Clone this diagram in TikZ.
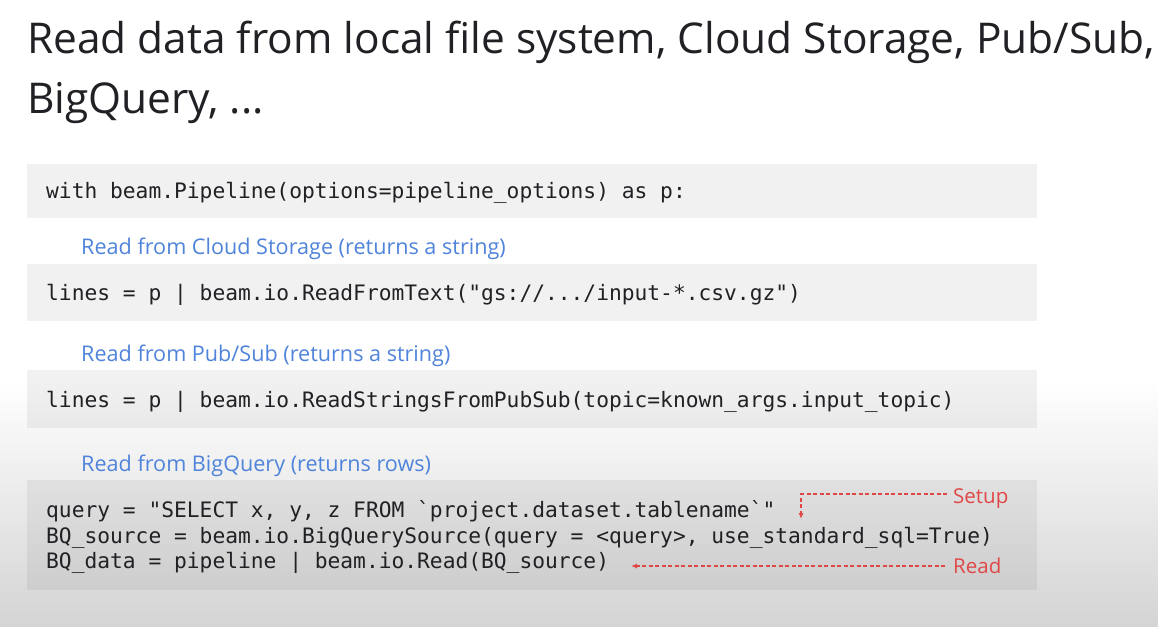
\documentclass[tikz,border=0pt]{standalone}
\usepackage{fontspec}
\setmainfont{Open Sans}
\setmonofont{DejaVu Sans Mono}
\usetikzlibrary{arrows.meta}
\definecolor{titlecol}{HTML}{202124}
\definecolor{bluecol}{HTML}{4F84DA}
\definecolor{redcol}{HTML}{E04848}
\definecolor{codecol}{HTML}{202124}
\definecolor{bgbottom}{HTML}{D4D4D4}
\tikzset{
  codebox/.style={fill=black, fill opacity=0.055, draw=none},
  codeline/.style={anchor=base west, inner sep=0pt, text=codecol, font=\ttfamily\fontsize{21.25}{25}\selectfont},
  bluelabel/.style={anchor=base west, inner sep=0pt, text=bluecol, font=\fontsize{21.6}{26}\selectfont},
  titletext/.style={anchor=base west, inner sep=0pt, text=titlecol, font=\fontsize{42.4}{50}\selectfont},
  redlabel/.style={anchor=base west, inner sep=0pt, text=redcol, font=\fontsize{20.5}{24}\selectfont},
  redarrow/.style={draw=redcol, line width=1.1pt, dash pattern=on 4pt off 2.5pt, -{Latex[length=6pt,width=5pt]}},
}
\begin{document}
\begin{tikzpicture}[x=1pt,y=-1pt]
\useasboundingbox (0,0) rectangle (1158,626);
% background
\fill[white] (0,0) rectangle (1158,380);
\shade[top color=white, bottom color=bgbottom] (0,380) rectangle (1158,626);
% title
\node[titletext] (t1) at (27,53) {Read data from local file system, Cloud Storage, Pub/Sub,};
\node[titletext] (t2) at (27,113) {BigQuery, ...};
% boxes
\fill[codebox] (27,164) rectangle (1037,218);
\fill[codebox] (27,264) rectangle (1037,321);
\fill[codebox] (27,370) rectangle (1037,428);
\fill[codebox] (27,480) rectangle (1037,590);
% code
\node[codeline] (c1) at (46,198) {with beam.Pipeline(options=pipeline\_options) as p:};
\node[bluelabel] (l1) at (81,254) {Read from Cloud Storage (returns a string)};
\node[codeline] (c2) at (46,300) {lines = p | beam.io.ReadFromText("gs://.../input-*.csv.gz")};
\node[bluelabel] (l2) at (81,361) {Read from Pub/Sub (returns a string)};
\node[codeline] (c3) at (46,407) {lines = p | beam.io.ReadStringsFromPubSub(topic=known\_args.input\_topic)};
\node[bluelabel] (l3) at (81,471) {Read from BigQuery (returns rows)};
\node[codeline] (c4) at (46,517) {query = "SELECT x, y, z FROM `project.dataset.tablename`"};
\node[codeline] (c5) at (46,543) {BQ\_source = beam.io.BigQuerySource(query = <query>, use\_standard\_sql=True)};
\node[codeline] (c6) at (46,568) {BQ\_data = pipeline | beam.io.Read(BQ\_source)};
% annotations
\node[redlabel] (setup) at (953,503) {Setup};
\node[redlabel] (read) at (953,573) {Read};
\coordinate (scorner) at (801,494);
\coordinate (stip) at (801,519);
\coordinate (sstart) at (947,494);
\coordinate (rstart) at (945,566);
\coordinate (rtip) at (631,566);
\draw[redarrow] (sstart) -- (scorner) -- (stip);
\draw[redarrow] (rstart) -- (rtip);
\end{tikzpicture}
\end{document}
